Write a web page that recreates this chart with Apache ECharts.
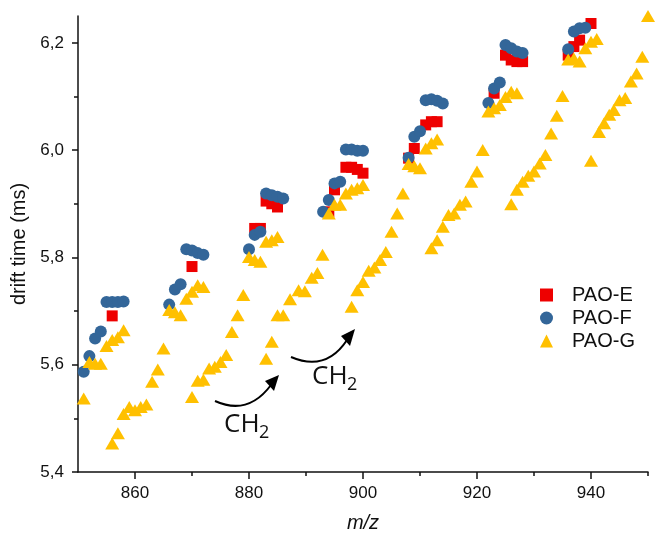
<!DOCTYPE html>
<html>
<head>
<meta charset="utf-8">
<script src="https://cdn.jsdelivr.net/npm/echarts@6/dist/echarts.min.js"></script>
<style>
html,body{margin:0;padding:0;background:#fff;}
#chart{width:656px;height:539px;}
</style>
</head>
<body>
<div id="chart"></div>
<script>
// ---- data ----
const seriesNames = ['PAO-E', 'PAO-F', 'PAO-G'];
const xTickLabels = [860, 880, 900, 920, 940];
const xMinorTicks = [870, 890, 910, 930, 950];
const yTickLabels = [5.4, 5.6, 5.8, 6.0, 6.2];
const yMinorTicks = [5.5, 5.7, 5.9, 6.1];

const paoE = [
  [856, 5.691], [870, 5.783], [881, 5.854], [882, 5.854], [883, 5.905], [884, 5.900], [885, 5.894],
  [894, 5.885], [895, 5.926], [897, 5.968], [898, 5.968], [899, 5.964], [900, 5.957],
  [908, 5.985], [909, 6.003], [911, 6.047], [912, 6.053], [913, 6.053],
  [923, 6.106], [925, 6.177], [926, 6.168], [927, 6.165], [928, 6.165],
  [936, 6.177], [937, 6.193], [938, 6.205], [940, 6.236]
];
const paoF = [
  [851, 5.587], [852, 5.616], [853, 5.649], [854, 5.662], [855, 5.717], [856, 5.717], [857, 5.717], [858, 5.718],
  [866, 5.712], [867, 5.740], [868, 5.750], [869, 5.815], [870, 5.813], [871, 5.808], [872, 5.805],
  [880, 5.815], [881, 5.842], [882, 5.848], [883, 5.919], [884, 5.916], [885, 5.913], [886, 5.910],
  [893, 5.885], [894, 5.907], [895, 5.938], [896, 5.941], [897, 6.001], [898, 6.001], [899, 5.999], [900, 5.999],
  [908, 5.986], [909, 6.025], [910, 6.035], [911, 6.093], [912, 6.095], [913, 6.092], [914, 6.087],
  [922, 6.088], [923, 6.115], [924, 6.126], [925, 6.196], [926, 6.190], [927, 6.184], [928, 6.181],
  [936, 6.188], [937, 6.221], [938, 6.227], [939, 6.228]
];
const paoG = [
  [851, 5.537], [852, 5.605], [853, 5.602], [854, 5.602], [855, 5.635], [856, 5.646], [857, 5.651], [858, 5.664],
  [856, 5.453], [857, 5.472], [858, 5.508], [859, 5.521], [860, 5.515], [861, 5.521], [862, 5.526], [863, 5.568], [864, 5.591], [865, 5.630],
  [866, 5.702], [867, 5.698], [868, 5.692], [869, 5.723], [870, 5.736], [871, 5.748], [872, 5.745],
  [870, 5.540], [871, 5.570], [872, 5.572], [873, 5.593], [874, 5.596], [875, 5.605], [876, 5.618], [877, 5.661], [878, 5.692], [879, 5.730],
  [880, 5.801], [881, 5.795], [882, 5.792], [883, 5.829], [884, 5.832], [885, 5.838],
  [883, 5.611], [884, 5.643], [885, 5.692], [886, 5.692], [887.2, 5.722], [888.7, 5.739], [889.8, 5.737], [891, 5.762], [892, 5.771], [892.9, 5.805],
  [894, 5.882], [895, 5.898], [896, 5.898], [897, 5.919], [898, 5.926], [899, 5.929], [900, 5.935],
  [898, 5.708], [899, 5.739], [900, 5.754], [901, 5.775], [902, 5.781], [903, 5.795], [904, 5.810], [905, 5.848], [906, 5.882], [907, 5.919],
  [908, 5.974], [909, 5.970], [910, 5.966], [911, 6.003], [912, 6.013], [913, 6.020],
  [912, 5.817], [913, 5.832], [914, 5.857], [915, 5.879], [916, 5.882], [917, 5.898], [918, 5.904], [919, 5.941], [920, 5.960], [921, 6.000],
  [922, 6.072], [923, 6.078], [924, 6.084], [925, 6.099], [926, 6.109], [927, 6.106],
  [926, 5.899], [927, 5.926], [928, 5.941], [929, 5.952], [930, 5.960], [931, 5.975], [932, 5.991], [933, 6.031], [934, 6.064], [935, 6.101],
  [936, 6.169], [937, 6.171], [938, 6.165], [939, 6.190], [940, 6.202], [941, 6.207],
  [940, 5.980], [941.4, 6.034], [942.3, 6.050], [943.2, 6.066], [944, 6.075], [945, 6.093], [946, 6.097], [947, 6.128], [948, 6.143], [949, 6.174], [950, 6.250]
];

// ---- chart ----
const FONT = '"Liberation Sans", Arial, sans-serif';
const chart = echarts.init(document.getElementById('chart'), null, {renderer: 'canvas'});
const commaFmt = v => v.toFixed(1).replace('.', ',');

const option = {
  animation: false,
  backgroundColor: '#fff',
  grid: {left: 78, right: 8, top: 16, bottom: 67, containLabel: false},
  xAxis: [{
    type: 'value', min: 850, max: 950, interval: 10,
    name: 'm/z', nameLocation: 'middle', nameGap: 41,
    nameTextStyle: {fontFamily: FONT, fontSize: 20, fontStyle: 'italic', color: '#111'},
    axisLine: {show: true, onZero: false, lineStyle: {color: '#111', width: 1.5}},
    axisTick: {show: true, length: 7, customValues: xTickLabels, lineStyle: {color: '#111', width: 1.5}},
    axisLabel: {show: true, customValues: xTickLabels, margin: 13, fontFamily: FONT, fontSize: 17, color: '#111'},
    splitLine: {show: false}
  }, {
    type: 'value', min: 850, max: 950, interval: 10, position: 'bottom',
    axisLine: {show: false},
    axisTick: {show: true, length: 4, customValues: xMinorTicks, lineStyle: {color: '#111', width: 1.5}},
    axisLabel: {show: false},
    splitLine: {show: false}
  }],
  yAxis: [{
    type: 'value', min: 5.4, max: 6.25, interval: 0.2,
    name: 'drift time (ms)', nameLocation: 'middle', nameGap: 45,
    nameTextStyle: {fontFamily: FONT, fontSize: 20, color: '#111'},
    axisLine: {show: true, onZero: false, lineStyle: {color: '#111', width: 1.5}},
    axisTick: {show: true, length: 6, customValues: yTickLabels, lineStyle: {color: '#111', width: 1.5}},
    axisLabel: {show: true, customValues: yTickLabels, margin: 14, fontFamily: FONT, fontSize: 17, color: '#111', formatter: commaFmt},
    splitLine: {show: false}
  }, {
    type: 'value', min: 5.4, max: 6.25, interval: 0.2, position: 'left',
    axisLine: {show: false},
    axisTick: {show: true, length: 4, customValues: yMinorTicks, lineStyle: {color: '#111', width: 1.5}},
    axisLabel: {show: false},
    splitLine: {show: false}
  }],
  legend: {
    orient: 'vertical', left: 535, top: 280, itemGap: 3,
    itemWidth: 13, itemHeight: 13,
    textStyle: {fontFamily: FONT, fontSize: 20, color: '#111', padding: [0, 0, 0, 14]},
    data: [
      {name: seriesNames[0], icon: 'rect'},
      {name: seriesNames[1], icon: 'circle'},
      {name: seriesNames[2], icon: 'triangle'}
    ]
  },
  series: [
    {name: seriesNames[0], type: 'scatter', data: paoE, symbol: 'rect', symbolSize: 11,
     itemStyle: {color: '#ee0000', opacity: 1}, z: 2},
    {name: seriesNames[1], type: 'scatter', data: paoF, symbol: 'circle', symbolSize: 12,
     itemStyle: {color: '#336699', opacity: 1}, z: 3},
    {name: seriesNames[2], type: 'scatter', data: paoG, symbol: 'triangle', symbolSize: [14, 12],
     itemStyle: {color: '#ffc000', opacity: 1}, z: 4}
  ],
  graphic: [
    {type: 'bezierCurve', shape: {x1: 215, y1: 401, x2: 271, y2: 385, cpx1: 248, cpy1: 416},
     style: {stroke: '#000', lineWidth: 2, fill: null}},
    {type: 'polygon', shape: {points: [[279, 375], [265, 381], [274, 391]]}, style: {fill: '#000'}},
    {type: 'bezierCurve', shape: {x1: 291, y1: 357, x2: 347, y2: 340, cpx1: 326, cpy1: 372},
     style: {stroke: '#000', lineWidth: 2, fill: null}},
    {type: 'polygon', shape: {points: [[355, 329], [341, 336], [350, 346]]}, style: {fill: '#000'}},
    {type: 'text', x: 224, y: 412, style: {text: 'CH', font: '26px "Open Sans", sans-serif', fill: '#111', verticalAlign: 'top'}},
    {type: 'text', x: 259, y: 424, style: {text: '2', font: '18px "Open Sans", sans-serif', fill: '#111', verticalAlign: 'top'}},
    {type: 'text', x: 312, y: 364, style: {text: 'CH', font: '26px "Open Sans", sans-serif', fill: '#111', verticalAlign: 'top'}},
    {type: 'text', x: 347, y: 376, style: {text: '2', font: '18px "Open Sans", sans-serif', fill: '#111', verticalAlign: 'top'}}
  ]
};
chart.setOption(option);
</script>
</body>
</html>
